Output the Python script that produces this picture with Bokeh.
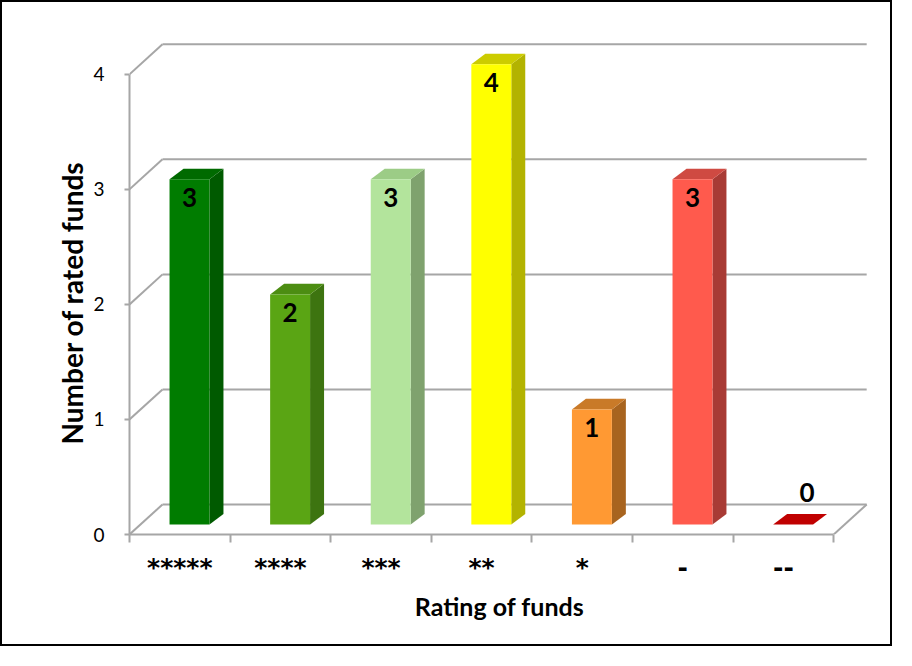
from bokeh.plotting import figure
from bokeh.models import Range1d, FixedTicker, Title
from bokeh.core.properties import value
from bokeh.embed import file_html
from bokeh.resources import INLINE

# ---- data ----
categories = ["*****", "****", "***", "**", "*", "-", "--"]
counts = [3, 2, 3, 4, 1, 3, 0]
y_ticks = [0, 1, 2, 3, 4]
front_colors = ["#007c00", "#5aa514", "#b3e49c", "#ffff00", "#ff9933", "#ff5a4d", "#c00000"]
side_colors = ["#005a00", "#3d7410", "#7fa26e", "#b3b300", "#a8641f", "#a83b35", "#8a0000"]
top_colors = ["#006a00", "#4c8d12", "#9ccc86", "#cccc00", "#c97a28", "#cf4a42", "#c00000"]

# ---- 3D geometry (styles) ----
DEPTH_DX, DEPTH_DY = 0.328, 0.261   # full floor depth in data units
BAR_LEFT, BAR_W = 0.398, 0.397
BAR_BASE = 0.087
SIDE_DX, SIDE_DY = 0.139, 0.092
GRID = "#a6a6a6"
FONT = "Lato"

n = len(categories)
p = figure(width=892, height=646, output_backend="svg", toolbar_location=None,
           x_range=Range1d(0, 7.356), y_range=Range1d(0, 4.32),
           min_border_left=127, min_border_top=35, min_border_right=25, min_border_bottom=114)
p.styles = {"border": "2px solid black"}
p.outline_line_color = None
p.xgrid.visible = False
p.ygrid.visible = False
p.background_fill_color = "white"
p.border_fill_color = "white"

# back wall gridlines
p.segment(x0=[DEPTH_DX] * len(y_ticks), y0=[v + DEPTH_DY for v in y_ticks],
          x1=[n + DEPTH_DX] * len(y_ticks), y1=[v + DEPTH_DY for v in y_ticks],
          line_color=GRID, line_width=2)
# side wall diagonals
p.segment(x0=[0] * len(y_ticks), y0=y_ticks,
          x1=[DEPTH_DX] * len(y_ticks), y1=[v + DEPTH_DY for v in y_ticks],
          line_color=GRID, line_width=2)
# floor right edge
p.segment(x0=[n], y0=[0], x1=[n + DEPTH_DX], y1=[DEPTH_DY], line_color=GRID, line_width=2)

# bars
side_xs, side_ys, top_xs, top_ys, fr_xs, fr_ys = [], [], [], [], [], []
for i, v in enumerate(counts):
    x0 = i + BAR_LEFT
    x1 = x0 + BAR_W
    b = BAR_BASE
    t = v + BAR_BASE
    side_xs.append([x1, x1 + SIDE_DX, x1 + SIDE_DX, x1])
    side_ys.append([b, b + SIDE_DY, t + SIDE_DY, t])
    top_xs.append([x0, x1, x1 + SIDE_DX, x0 + SIDE_DX])
    top_ys.append([t, t, t + SIDE_DY, t + SIDE_DY])
    fr_xs.append([x0, x1, x1, x0])
    fr_ys.append([b, b, t, t])

p.patches(side_xs, side_ys, fill_color=side_colors, line_color=None)
p.patches(top_xs, top_ys, fill_color=top_colors, line_color=None)
p.patches(fr_xs, fr_ys, fill_color=front_colors, line_color=None)

# value labels
lx, ly = [], []
for i, v in enumerate(counts):
    cx = i + BAR_LEFT + BAR_W / 2
    if v > 0:
        lx.append(cx)
        ly.append(v + BAR_BASE - 0.16)
    else:
        lx.append(cx + SIDE_DX)
        ly.append(BAR_BASE + 0.28)
p.text(x=lx, y=ly, text=[str(v) for v in counts], text_font=value(FONT),
       text_font_style="bold", text_font_size="26px", text_align="center",
       text_baseline="middle", text_color="black")

# y axis
ya = p.yaxis[0]
ya.ticker = FixedTicker(ticks=y_ticks)
ya.bounds = (0, 4)
ya.axis_line_color = GRID
ya.axis_line_width = 2
ya.major_tick_line_color = GRID
ya.major_tick_line_width = 2
ya.major_tick_out = 5
ya.major_tick_in = 0
ya.minor_tick_line_color = None
ya.major_label_standoff = 20
ya.major_label_text_font = FONT
ya.major_label_text_font_size = "19px"
ya.major_label_text_color = "black"

# y axis title (left title, starting above the frame bottom)
ytitle = Title(text="Number of rated funds", align="left", offset=90, standoff=4,
               text_font=FONT, text_font_style="bold", text_font_size="28px",
               text_color="black")
p.add_layout(ytitle, "left")

# x axis
xa = p.xaxis[0]
xa.ticker = FixedTicker(ticks=[i + 0.5 for i in range(n)], minor_ticks=list(range(n + 1)))
xa.major_label_overrides = {i + 0.5: c for i, c in enumerate(categories)}
xa.bounds = (0, n)
xa.axis_line_color = GRID
xa.axis_line_width = 2
xa.major_tick_line_color = None
xa.major_tick_out = 0
xa.major_tick_in = 0
xa.minor_tick_line_color = GRID
xa.minor_tick_line_width = 2
xa.minor_tick_out = 8
xa.minor_tick_in = 0
xa.major_label_standoff = 10
xa.major_label_text_font = "DejaVu Sans"
xa.major_label_text_font_style = "bold"
xa.major_label_text_font_size = "25px"
xa.major_label_text_color = "black"
xa.axis_label = "Rating of funds"
xa.axis_label_text_font = FONT
xa.axis_label_text_font_style = "bold"
xa.axis_label_text_font_size = "25px"
xa.axis_label_text_color = "black"
xa.axis_label_standoff = 6

open("out.html", "w").write(file_html(p, INLINE))
